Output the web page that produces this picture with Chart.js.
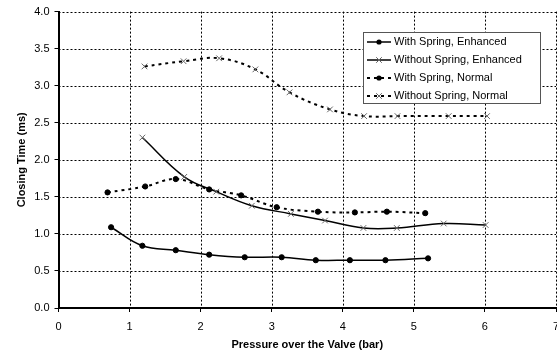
<!DOCTYPE html>
<html>
<head>
<meta charset="utf-8">
<script src="https://cdn.jsdelivr.net/npm/chart.js@4/dist/chart.umd.min.js"></script>
<style>
  html, body { margin: 0; padding: 0; background: #fff; }
  #wrap { width: 557px; height: 356px; position: relative; }
</style>
</head>
<body>
<div id="wrap"><canvas id="chart"></canvas></div>
<script>
// values
const seriesNames = [
    "With Spring, Enhanced",
    "Without Spring, Enhanced",
    "With Spring, Normal",
    "Without Spring, Normal"
];
const springEnhX = [0.74, 1.18, 1.65, 2.12, 2.62, 3.14, 3.62, 4.10, 4.60, 5.20];
const springEnhY = [1.09, 0.84, 0.78, 0.72, 0.685, 0.685, 0.645, 0.645, 0.645, 0.67];
const noSpringEnhX = [1.18, 1.77, 2.22, 2.72, 3.27, 3.75, 4.29, 4.76, 5.42, 6.01];
const noSpringEnhY = [2.30, 1.77, 1.57, 1.38, 1.27, 1.18, 1.08, 1.08, 1.14, 1.12];
const springNormX = [0.69, 1.22, 1.65, 2.12, 2.57, 3.07, 3.65, 4.17, 4.62, 5.16];
const springNormY = [1.56, 1.64, 1.74, 1.60, 1.52, 1.36, 1.30, 1.29, 1.30, 1.28];
const noSpringNormX = [1.21, 1.76, 2.26, 2.77, 3.25, 3.82, 4.30, 4.77, 5.49, 6.03];
const noSpringNormY = [3.26, 3.33, 3.37, 3.22, 2.91, 2.68, 2.59, 2.59, 2.59, 2.59];

const FONT = "'Liberation Sans', Arial, sans-serif";

function pts(xs, ys) {
    return xs.map((x, i) => ({ x: x, y: ys[i] }));
}

function makeSet(label, xs, ys, dashed, cross) {
    return {
        label: label,
        data: pts(xs, ys),
        borderColor: "#000",
        borderWidth: dashed ? 2 : 1.5,
        borderDash: dashed ? [3, 4] : [],
        tension: 0.4,
        fill: false,
        pointStyle: cross ? "crossRot" : "circle",
        pointRadius: cross ? 4 : 2.6,
        pointBackgroundColor: "#000",
        pointBorderColor: cross ? "#666" : "#000",
        pointBorderWidth: 1
    };
}

const datasets = [
    makeSet(seriesNames[0], springEnhX, springEnhY, false, false),
    makeSet(seriesNames[1], noSpringEnhX, noSpringEnhY, false, true),
    makeSet(seriesNames[2], springNormX, springNormY, true, false),
    makeSet(seriesNames[3], noSpringNormX, noSpringNormY, true, true)
];

// dotted gridlines drawn from the scale ticks
const dottedGrid = {
    id: "dottedGrid",
    beforeDatasetsDraw(chart) {
        const ctx = chart.ctx;
        const area = chart.chartArea;
        const xs = chart.scales.x, ys = chart.scales.y;
        ctx.save();
        ctx.strokeStyle = "#000";
        ctx.lineWidth = 1;
        ctx.setLineDash([2, 2]);
        xs.ticks.forEach(t => {
            const px = Math.round(xs.getPixelForValue(t.value)) + 0.5;
            ctx.beginPath();
            ctx.moveTo(px, area.top);
            ctx.lineTo(px, area.bottom);
            ctx.stroke();
        });
        ys.ticks.forEach(t => {
            const py = Math.round(ys.getPixelForValue(t.value)) + 0.5;
            ctx.beginPath();
            ctx.moveTo(area.left, py);
            ctx.lineTo(area.right, py);
            ctx.stroke();
        });
        ctx.restore();
    }
};

// legend box drawn inside the plot, like the Excel original
const boxLegend = {
    id: "boxLegend",
    afterDraw(chart) {
        const ctx = chart.ctx;
        const left = 363, top = 32, w = 177, h = 71, rowH = 18;
        ctx.save();
        ctx.fillStyle = "#fff";
        ctx.fillRect(left, top, w, h);
        ctx.strokeStyle = "#555";
        ctx.lineWidth = 1;
        ctx.strokeRect(left + 0.5, top + 0.5, w, h);
        ctx.font = "11px " + FONT;
        ctx.textBaseline = "middle";
        chart.data.datasets.forEach((ds, i) => {
            const cy = top + 10 + i * rowH;
            const mx = left + 16;
            ctx.strokeStyle = "#000";
            ctx.lineWidth = ds.borderWidth;
            ctx.setLineDash(ds.borderDash);
            ctx.beginPath();
            ctx.moveTo(left + 4, cy);
            ctx.lineTo(left + 28, cy);
            ctx.stroke();
            ctx.setLineDash([]);
            ctx.fillStyle = ds.pointBackgroundColor;
            ctx.strokeStyle = ds.pointBorderColor;
            ctx.lineWidth = 1;
            ctx.beginPath();
            if (ds.pointStyle === "circle") {
                ctx.arc(mx, cy, ds.pointRadius, 0, Math.PI * 2);
                ctx.fill();
            } else {
                const r = ds.pointRadius * 0.7;
                ctx.moveTo(mx - r, cy - r); ctx.lineTo(mx + r, cy + r);
                ctx.moveTo(mx - r, cy + r); ctx.lineTo(mx + r, cy - r);
                ctx.stroke();
            }
            ctx.fillStyle = "#000";
            ctx.fillText(ds.label, left + 31, cy);
        });
        ctx.restore();
    }
};

new Chart(document.getElementById("chart"), {
    type: "line",
    data: { datasets: datasets },
    options: {
        responsive: true,
        maintainAspectRatio: false,
        animation: false,
        layout: { autoPadding: false, padding: { top: 8, right: 1, left: 12, bottom: 0 } },
        plugins: {
            legend: { display: false },
            tooltip: { enabled: false }
        },
        scales: {
            x: {
                type: "linear",
                min: 0,
                max: 7,
                ticks: { stepSize: 1, color: "#000", font: { family: FONT, size: 11 }, padding: 8 },
                grid: { drawOnChartArea: false, color: "#000", tickLength: 4, tickColor: "#000" },
                border: { color: "#000", width: 2 },
                title: {
                    display: true,
                    text: "Pressure over the Valve (bar)",
                    color: "#000",
                    font: { family: FONT, size: 11, weight: "bold" },
                    padding: { top: 2, bottom: 4 }
                },
                afterFit(scale) {
                    scale.height = 48;
                    scale.paddingRight = 0;
                }
            },
            y: {
                min: 0,
                max: 4,
                ticks: {
                    stepSize: 0.5,
                    color: "#000",
                    font: { family: FONT, size: 11 },
                    padding: 5,
                    callback: v => v.toFixed(1)
                },
                grid: { drawOnChartArea: false, color: "#000", tickLength: 4, tickColor: "#000" },
                border: { color: "#000", width: 2 },
                title: {
                    display: true,
                    text: "Closing Time (ms)",
                    color: "#000",
                    font: { family: FONT, size: 11, weight: "bold" },
                    padding: { top: 3, bottom: 1 }
                },
                afterFit(scale) { scale.width = 46.5; }
            }
        }
    },
    plugins: [dottedGrid, boxLegend]
});
</script>
</body>
</html>
